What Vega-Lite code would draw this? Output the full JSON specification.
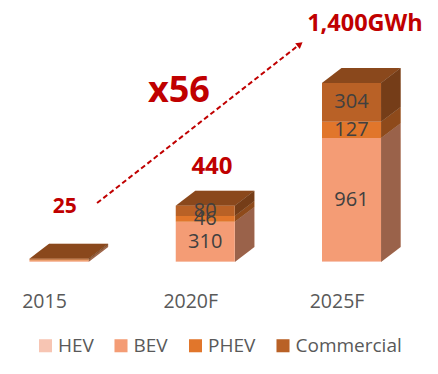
{
"$schema":"https://vega.github.io/schema/vega-lite/v6.json",
"width":438,"height":262,
"autosize":{"type":"none"},
"padding":{"left":0,"top":0,"right":0,"bottom":112},
"background":"white",
"config":{"view":{"stroke":null},"font":"Open Sans"},
"datasets":{
"capacity":[
{"year":2015,"type":"HEV","rank":1,"value":3},{"year":2015,"type":"BEV","rank":2,"value":9},{"year":2015,"type":"PHEV","rank":3,"value":6},{"year":2015,"type":"Commercial","rank":4,"value":7},
{"year":2020,"type":"HEV","rank":1,"value":4},{"year":2020,"type":"BEV","rank":2,"value":310},{"year":2020,"type":"PHEV","rank":3,"value":46},{"year":2020,"type":"Commercial","rank":4,"value":80},
{"year":2025,"type":"HEV","rank":1,"value":8},{"year":2025,"type":"BEV","rank":2,"value":961},{"year":2025,"type":"PHEV","rank":3,"value":127},{"year":2025,"type":"Commercial","rank":4,"value":304}
],
"faces":[
{"id":"s15b","face":"side","type":"BEV","xv":2016.01,"lo":0,"hi":12},{"id":"s15b","face":"side","type":"BEV","xv":2016.68,"lo":117,"hi":129},
{"id":"s15p","face":"side","type":"PHEV","xv":2016.01,"lo":12,"hi":18},{"id":"s15p","face":"side","type":"PHEV","xv":2016.68,"lo":129,"hi":135},
{"id":"s15c","face":"side","type":"Commercial","xv":2016.01,"lo":18,"hi":25},{"id":"s15c","face":"side","type":"Commercial","xv":2016.68,"lo":135,"hi":142},
{"id":"s20b","face":"side","type":"BEV","xv":2021.01,"lo":0,"hi":314},{"id":"s20b","face":"side","type":"BEV","xv":2021.68,"lo":117,"hi":431},
{"id":"s20p","face":"side","type":"PHEV","xv":2021.01,"lo":314,"hi":360},{"id":"s20p","face":"side","type":"PHEV","xv":2021.68,"lo":431,"hi":477},
{"id":"s20c","face":"side","type":"Commercial","xv":2021.01,"lo":360,"hi":440},{"id":"s20c","face":"side","type":"Commercial","xv":2021.68,"lo":477,"hi":557},
{"id":"s25b","face":"side","type":"BEV","xv":2026.01,"lo":0,"hi":969},{"id":"s25b","face":"side","type":"BEV","xv":2026.68,"lo":117,"hi":1086},
{"id":"s25p","face":"side","type":"PHEV","xv":2026.01,"lo":969,"hi":1096},{"id":"s25p","face":"side","type":"PHEV","xv":2026.68,"lo":1086,"hi":1213},
{"id":"s25c","face":"side","type":"Commercial","xv":2026.01,"lo":1096,"hi":1400},{"id":"s25c","face":"side","type":"Commercial","xv":2026.68,"lo":1213,"hi":1517},
{"id":"t15","face":"top","type":"Commercial","xv":2013.99,"lo":25,"hi":25},{"id":"t15","face":"top","type":"Commercial","xv":2014.66,"lo":25,"hi":142},{"id":"t15","face":"top","type":"Commercial","xv":2016.01,"lo":25,"hi":142},{"id":"t15","face":"top","type":"Commercial","xv":2016.68,"lo":142,"hi":142},
{"id":"t20","face":"top","type":"Commercial","xv":2018.99,"lo":440,"hi":440},{"id":"t20","face":"top","type":"Commercial","xv":2019.66,"lo":440,"hi":557},{"id":"t20","face":"top","type":"Commercial","xv":2021.01,"lo":440,"hi":557},{"id":"t20","face":"top","type":"Commercial","xv":2021.68,"lo":557,"hi":557},
{"id":"t25","face":"top","type":"Commercial","xv":2023.99,"lo":1400,"hi":1400},{"id":"t25","face":"top","type":"Commercial","xv":2024.66,"lo":1400,"hi":1517},{"id":"t25","face":"top","type":"Commercial","xv":2026.01,"lo":1400,"hi":1517},{"id":"t25","face":"top","type":"Commercial","xv":2026.68,"lo":1517,"hi":1517}
],
"trend":[{"xv":2016.3,"gwh":461},{"xv":2023.24,"gwh":1704}]
},
"layer":[
{"data":{"name":"faces"},"mark":{"type":"area","interpolate":"linear"},
"encoding":{
"x":{"field":"xv","type":"quantitative","scale":{"domain":[2012.983,2027.957],"nice":false,"zero":false,"padding":0},
"axis":{"values":[2015,2020,2025],"title":null,"grid":false,"ticks":false,"domain":false,"labelExpr":"datum.value==2015?'2015':datum.value+'F'","labelFontSize":19.5,"labelColor":"#595959","labelPadding":30,"labelOffset":-15,"labelFlush":false,"labelOverlap":false}},
"y":{"field":"lo","type":"quantitative","scale":{"domain":[0,2049],"nice":false},"axis":null},
"y2":{"field":"hi"},
"detail":{"field":"id"},
"color":{"field":"type","type":"nominal","scale":{"domain":["HEV","BEV","PHEV","Commercial"],"range":["#F7C5B3","#F49C75","#E1762B","#B96126"]},
"legend":{"title":null,"orient":"none","legendX":36,"legendY":336,"direction":"horizontal","columns":4,"symbolType":"square","symbolSize":170,"symbolOpacity":1,"symbolStrokeWidth":0,"labelFontSize":19,"labelColor":"#595959","columnPadding":17.5,"labelOffset":3}}
}},
{"data":{"name":"faces"},"mark":{"type":"area","color":"black","interpolate":"linear"},
"encoding":{
"x":{"field":"xv","type":"quantitative"},
"y":{"field":"lo","type":"quantitative"},
"y2":{"field":"hi"},
"detail":{"field":"id"},
"opacity":{"field":"face","type":"nominal","scale":{"domain":["side","top"],"range":[0.37,0.25]},"legend":null}
}},
{"data":{"name":"capacity"},"mark":{"type":"bar","size":59},
"encoding":{
"x":{"field":"year","type":"quantitative"},
"y":{"field":"value","type":"quantitative","stack":"zero"},
"order":{"field":"rank"},
"color":{"field":"type","type":"nominal"}
}},
{"data":{"name":"capacity"},"mark":{"type":"text","fontSize":20,"color":"#404040","baseline":"middle"},
"encoding":{
"x":{"field":"year","type":"quantitative"},
"y":{"field":"value","type":"quantitative","stack":"zero","bandPosition":0.5},
"order":{"field":"rank"},
"detail":{"field":"type"},
"text":{"condition":{"test":"datum.value>=40","field":"value","type":"quantitative"},"value":""}
}},
{"data":{"name":"trend"},"mark":{"type":"line","color":"#C00000","strokeWidth":2,"strokeDash":[5,3]},
"encoding":{"x":{"field":"xv","type":"quantitative"},"y":{"field":"gwh","type":"quantitative"}}},
{"data":{"values":[{"xv":2023.24,"gwh":1704}]},"mark":{"type":"point","shape":"triangle-up","filled":true,"color":"#C00000","size":55,"opacity":1,"angle":52},
"encoding":{"x":{"field":"xv","type":"quantitative"},"y":{"field":"gwh","type":"quantitative"}}},
{"data":{"values":[{"xv":2015.2,"gwh":430,"note":"25"}]},"mark":{"type":"text","fontSize":21,"fontWeight":"bold","color":"#C00000","baseline":"middle"},
"encoding":{"x":{"field":"xv","type":"quantitative"},"y":{"field":"gwh","type":"quantitative"},"text":{"field":"note"}}},
{"data":{"values":[{"xv":2020.23,"gwh":743,"note":"440"}]},"mark":{"type":"text","fontSize":24,"fontWeight":"bold","color":"#C00000","baseline":"middle"},
"encoding":{"x":{"field":"xv","type":"quantitative"},"y":{"field":"gwh","type":"quantitative"},"text":{"field":"note"}}},
{"data":{"values":[{"xv":2019.1,"gwh":1337,"note":"x56"}]},"mark":{"type":"text","fontSize":36,"fontWeight":"bold","color":"#C00000","baseline":"middle"},
"encoding":{"x":{"field":"xv","type":"quantitative"},"y":{"field":"gwh","type":"quantitative"},"text":{"field":"note"}}},
{"data":{"values":[{"xv":2025.46,"gwh":1861,"note":"1,400GWh"}]},"mark":{"type":"text","fontSize":23.5,"fontWeight":"bold","color":"#C00000","baseline":"middle"},
"encoding":{"x":{"field":"xv","type":"quantitative"},"y":{"field":"gwh","type":"quantitative"},"text":{"field":"note"}}}
]
}
